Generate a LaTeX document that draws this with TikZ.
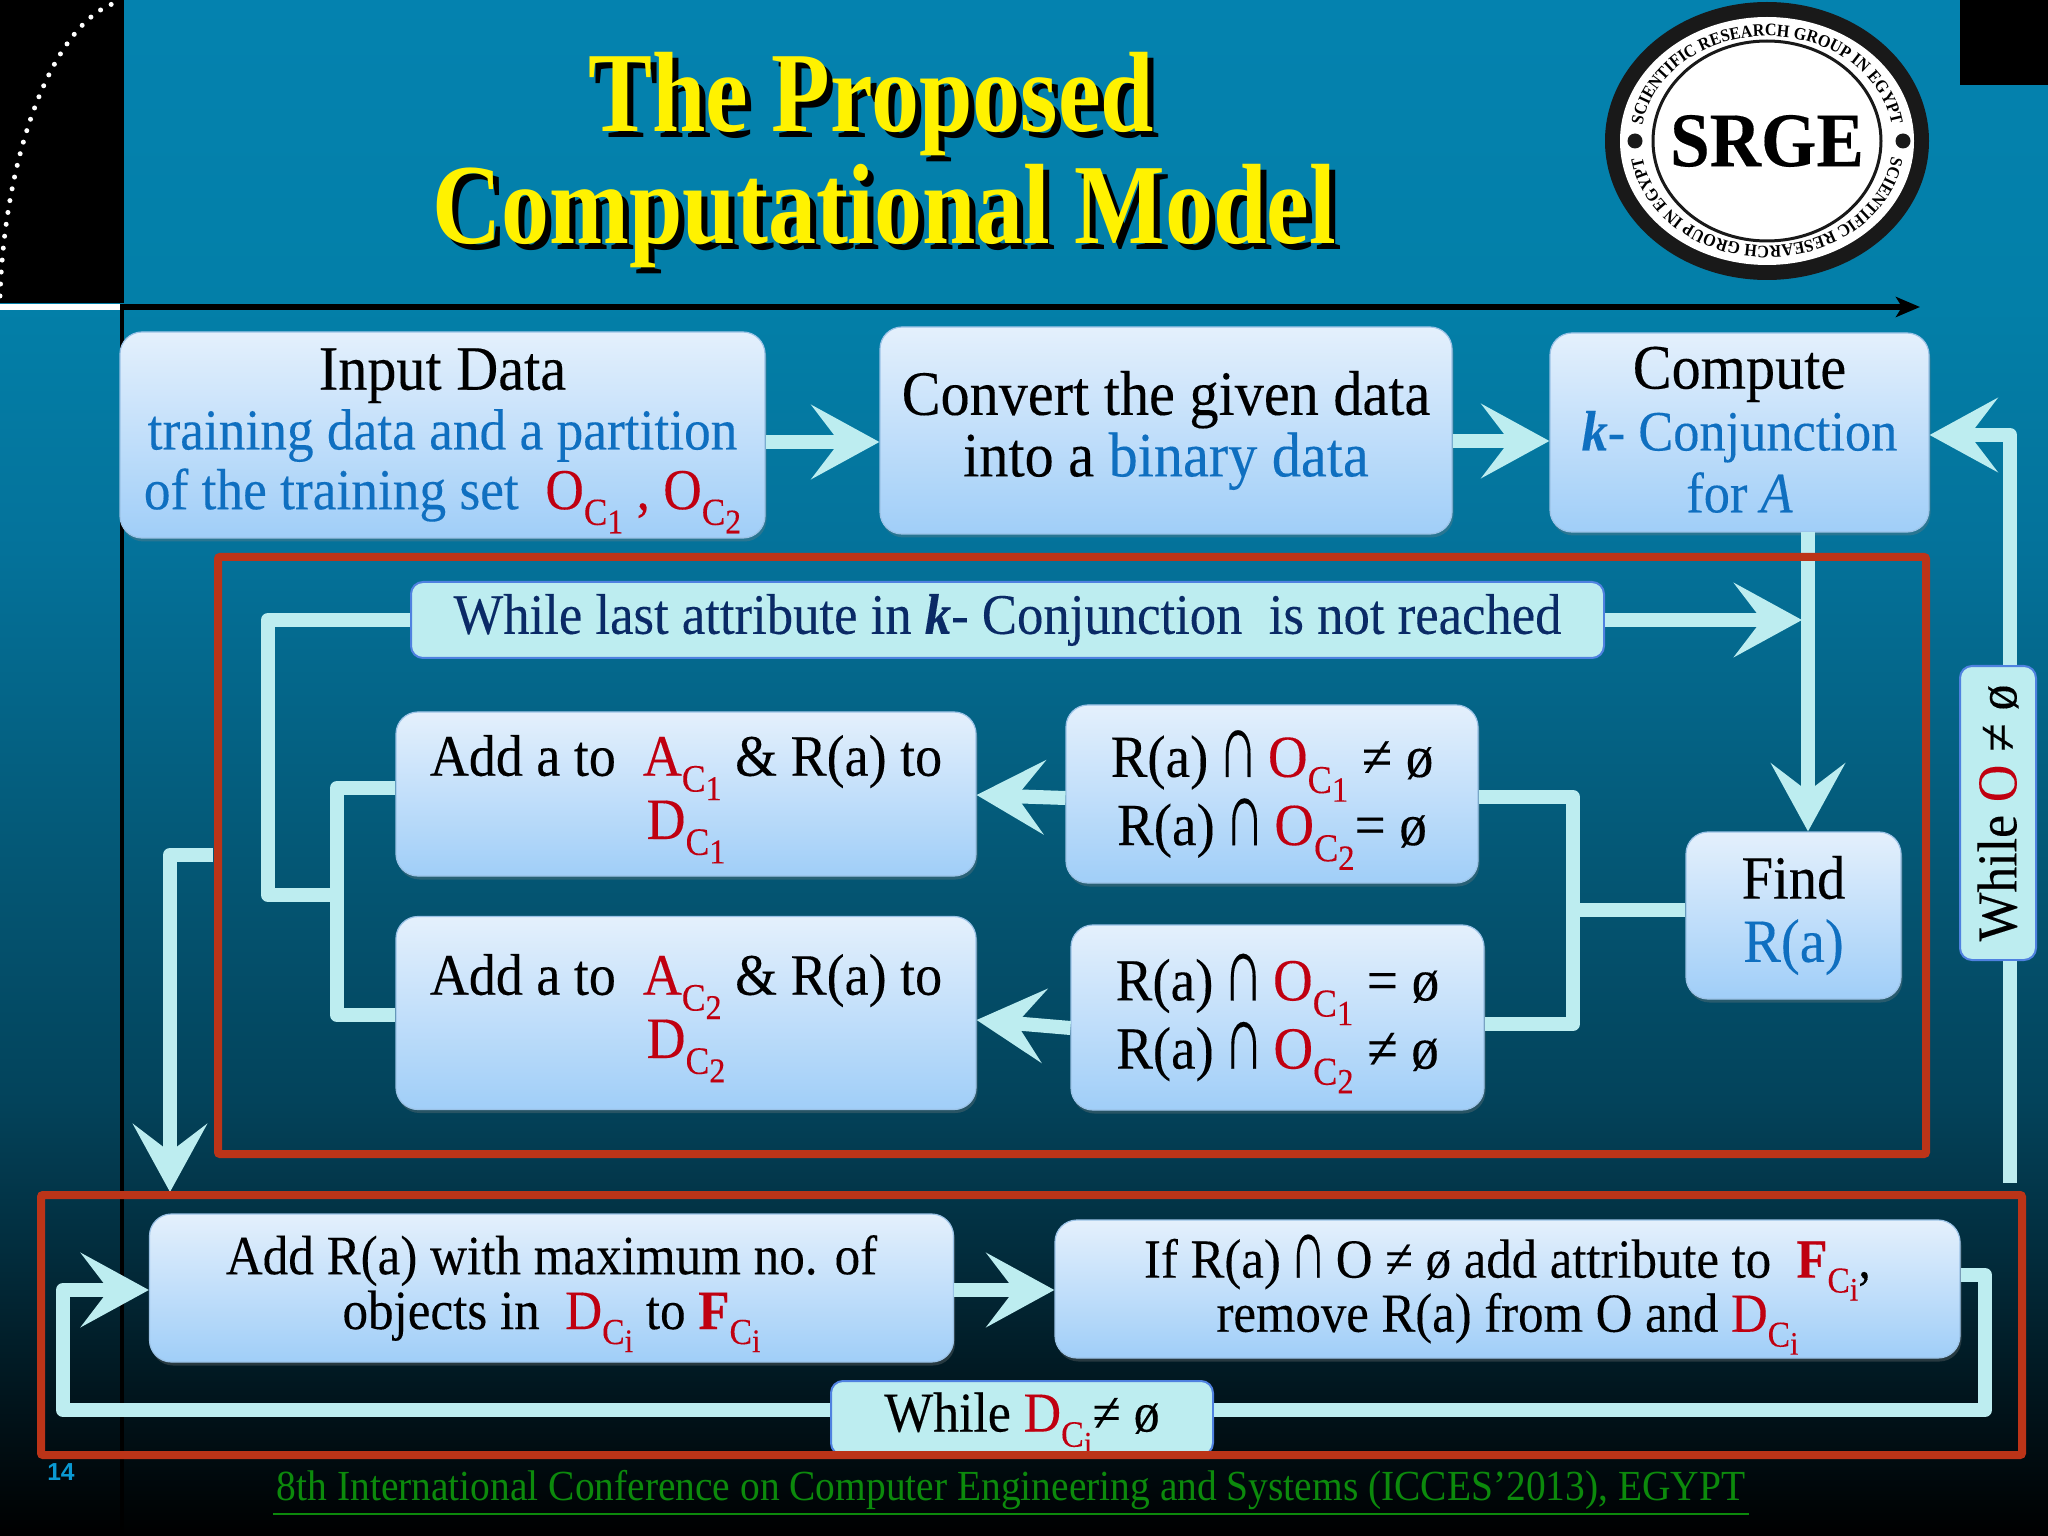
\documentclass[tikz,border=0pt]{standalone}
\usepackage{fontspec}
\setmainfont[FakeStretch=0.92,FakeBold=0.2]{Liberation Serif}
\newfontfamily\headfont[FakeStretch=0.84]{Liberation Serif}
\newfontfamily\footfont[FakeStretch=0.92]{Liberation Serif}
\newfontfamily\numfont{Liberation Sans}
\usetikzlibrary{arrows.meta,shadows,decorations.text}
\definecolor{flowcyan}{HTML}{BDEDF0}
\definecolor{boxtop}{HTML}{E4F0FC}
\definecolor{boxbot}{HTML}{A0CEF8}
\definecolor{barblue}{HTML}{4F81E0}
\definecolor{bluetext}{HTML}{0F6FC0}
\definecolor{navytext}{HTML}{0A2A66}
\definecolor{redtext}{HTML}{C00010}
\definecolor{framered}{HTML}{BC3418}
\definecolor{greentext}{HTML}{0C8A0C}
\pgfdeclareverticalshading{slidebg}{100bp}{rgb(0bp)=(0,0,0); rgb(25bp)=(0,0,0); rgb(29.4bp)=(0.004,0.08,0.11); rgb(34.3bp)=(0.008,0.176,0.24); rgb(39.2bp)=(0.012,0.263,0.357); rgb(47.3bp)=(0.016,0.345,0.463); rgb(57.1bp)=(0.016,0.447,0.604); rgb(65bp)=(0.012,0.498,0.659); rgb(75bp)=(0.016,0.51,0.686); rgb(100bp)=(0.016,0.51,0.686)}
\newcommand{\Csub}[2]{\textcolor{redtext}{#1\smash{\raisebox{-.27em}{\scalebox{.66}{C\raisebox{-.22em}{\scalebox{.9}{#2}}}}}}}
\newcommand{\capsym}{\scalebox{1}[1.55]{∩}}
\newcommand{\liftby}[1]{\rule[-#1]{0pt}{0pt}}
\tikzset{
  textsize/.style n args={2}{font=\fontsize{#1}{#2}\selectfont},
  databox/.style={rounded corners=.22cm,top color=boxtop,bottom color=boxbot,draw=boxbot!85!gray,line width=.012cm,
    drop shadow={shadow xshift=.015cm,shadow yshift=-.035cm,opacity=.3},align=center,inner sep=0pt,text=black},
  loopbar/.style={rounded corners=.12cm,fill=flowcyan,draw=barblue,line width=.02cm,align=center,inner sep=0pt,text=black},
  flowline/.style={line width=.14cm,color=flowcyan,line join=round},
  flowarrow/.style={flowline,-{Stealth[length=.68cm,width=.74cm,inset=.28cm]}},
  redframe/.style={draw=framered,line width=.08cm,rounded corners=.02cm},
  titletext/.style={font=\headfont\bfseries\fontsize{32.5}{34}\selectfont,inner sep=0pt}
}
\begin{document}
\begin{tikzpicture}
\useasboundingbox (0,0) rectangle (20.48,-15.36);
% Slide background and black rules
\shade[shading=slidebg] (0,0) rectangle (20.48,-15.36);
\fill[black] (0,0) rectangle (1.24,-3.03);
\fill[black] (19.6,0) rectangle (20.48,-.85);
\draw[white,line width=.05cm,line cap=round,dash pattern=on 0pt off .12cm] (0,-2.96) .. controls (.05,-1.5) and (.55,-.2) .. (1.18,-.02);
\draw[white,line width=.06cm] (0,-3.07) -- (1.2,-3.07);
\draw[black,line width=.045cm] (1.22,-3.07) -- (1.22,-15.36);
\draw[black,line width=.06cm,-{Stealth[length=.24cm,width=.2cm,inset=.06cm]}] (1.2,-3.07) -- (19.2,-3.07);
% Title
\node[titletext,text=black] (titleoneshadow) at (8.77,-1.1) {The Proposed};
\node[titletext,text=black] (titletwoshadow) at (8.9,-2.22) {Computational Model};
\node[titletext,text=yellow] (titleone) at (8.71,-1.04) {The Proposed};
\node[titletext,text=yellow] (titletwo) at (8.84,-2.16) {Computational Model};
% SRGE seal
\fill[black!90] (17.67,-1.41) ellipse [x radius=1.62,y radius=1.39];
\fill[white] (17.67,-1.41) ellipse [x radius=1.47,y radius=1.24];
\draw[black!90,line width=.03cm] (17.67,-1.41) ellipse [x radius=1.14,y radius=1.0];
\fill[black!90] (16.35,-1.41) circle (.075);
\fill[black!90] (19.03,-1.41) circle (.075);
\path[decorate,decoration={text along path,text align=center,text={|\footfont\fontsize{5}{5}\selectfont\bfseries|SCIENTIFIC RESEARCH GROUP IN EGYPT}}]
  (16.41,-1.41) arc [start angle=180,end angle=0,x radius=1.26,y radius=1.05];
\path[decorate,decoration={text along path,text align=center,text={|\footfont\fontsize{5}{5}\selectfont\bfseries|SCIENTIFIC RESEARCH GROUP IN EGYPT}}]
  (18.93,-1.41) arc [start angle=0,end angle=-180,x radius=1.26,y radius=1.05];
\node[font=\bfseries\fontsize{22}{23}\selectfont,inner sep=0pt] (srge) at (17.67,-1.41) {SRGE};
% Boxes
\node[databox,textsize={16.5}{17},minimum width=6.45cm,minimum height=2.06cm] (input) at (4.425,-4.35) {{\fontsize{18}{17}\selectfont Input Data}\\ \textcolor{bluetext}{training data and a partition}\\ \textcolor{bluetext}{of the training set}~~\Csub{O}{1} \textcolor{redtext}{,} \Csub{O}{2}};
\node[databox,textsize={18}{17.5},minimum width=5.72cm,minimum height=2.07cm] (convert) at (11.66,-4.305) {Convert the given data\\ into a \textcolor{bluetext}{binary data}};
\node[databox,textsize={16.2}{17.6},minimum width=3.79cm,minimum height=1.99cm] (compute) at (17.395,-4.325) {{\fontsize{18}{17.6}\selectfont Compute}\\ \textcolor{bluetext}{\textbf{\textit{k}}- Conjunction}\\ \textcolor{bluetext}{for \textit{A}}\liftby{.06cm}};
\node[loopbar,textsize={16.3}{18},minimum width=11.93cm,minimum height=.76cm,text=navytext] (whilebar) at (10.075,-6.2) {While last attribute in \textbf{\textit{k}}- Conjunction~~is not reached};
\node[databox,textsize={16.7}{18},minimum width=5.8cm,minimum height=1.64cm] (addone) at (6.86,-7.94) {Add a to~~\Csub{A}{1} \& R(a) to\\ \Csub{D}{1}\liftby{.14cm}};
\node[databox,textsize={17}{19.4},minimum width=4.12cm,minimum height=1.78cm] (rone) at (12.72,-7.94) {R(a)\,\capsym\,\Csub{O}{1} ≠ ø\\ R(a)\,\capsym\,\Csub{O}{2}= ø};
\node[databox,textsize={16.7}{18},minimum width=5.8cm,minimum height=1.93cm] (addtwo) at (6.86,-10.13) {Add a to~~\Csub{A}{2} \& R(a) to\\ \Csub{D}{2}\liftby{.14cm}};
\node[databox,textsize={17}{19.4},minimum width=4.13cm,minimum height=1.85cm] (rtwo) at (12.775,-10.175) {R(a)\,\capsym\,\Csub{O}{1} = ø\\ R(a)\,\capsym\,\Csub{O}{2} ≠ ø};
\node[databox,textsize={17.5}{18},minimum width=2.15cm,minimum height=1.67cm] (find) at (17.935,-9.155) {Find\\ \textcolor{bluetext}{R(a)}};
\node[loopbar,textsize={16}{18},rotate=90,minimum width=2.94cm,minimum height=.76cm] (whileo) at (19.98,-8.13) {While \textcolor{redtext}{O} ≠ ø};
\node[databox,textsize={15.8}{15.6},minimum width=8.04cm,minimum height=1.48cm] (addr) at (5.515,-12.88) {Add R(a) with maximum no. of\\ objects in~~\Csub{D}{i} to \Csub{\textbf{F}}{i}};
\node[databox,textsize={15.7}{15.4},minimum width=9.05cm,minimum height=1.38cm] (ifbox) at (15.075,-12.89) {If R(a)\,\capsym\,O ≠ ø add attribute to~~\Csub{\textbf{F}}{i},\\ remove R(a) from O and \Csub{D}{i}\liftby{.08cm}};
\node[loopbar,textsize={16}{18},minimum width=3.82cm,minimum height=.74cm] (whiled) at (10.22,-14.18) {While \Csub{D}{i}≠ ø\liftby{.12cm}};
% Connectors
\coordinate (loopstart) at (20.1,-11.83);
\coordinate (downstart) at (2.13,-8.55);
\coordinate (forkright) at (15.73,-9.1);
\coordinate (forkleft) at (3.37,-8.95);
\draw[flowarrow] (input.east |- 0,-4.42) -- (convert.west |- 0,-4.42);
\draw[flowarrow] (convert.east |- 0,-4.41) -- (compute.west |- 0,-4.41);
\draw[flowline] (loopstart) -- (whileo.west -| loopstart);
\draw[flowarrow] (whileo.east -| loopstart) |- (compute.east |- 0,-4.35);
\draw[flowarrow] (18.08,-5.32) -- (find.north -| 18.08,0);
\draw[flowarrow] (whilebar.east) -- (18.02,-6.2);
\draw[flowline] (whilebar.west) -- (2.68,-6.2) |- (forkleft);
\draw[flowline] (addone.west |- 0,-7.88) -| (forkleft) |- (addtwo.west |- 0,-10.15);
\draw[flowarrow] (rone.west |- 0,-7.98) -- (addone.east |- 0,-7.95);
\draw[flowarrow] (rtwo.west |- 0,-10.28) -- (addtwo.east |- 0,-10.2);
\draw[flowline] (rone.east |- 0,-7.97) -| (forkright) |- (rtwo.east |- 0,-10.24);
\draw[flowline] (find.west |- forkright) -- (forkright);
\draw[flowarrow] (downstart) -| (1.7,-11.92);
\draw[flowarrow] (addr.east |- 0,-12.9) -- (ifbox.west |- 0,-12.9);
\draw[flowline] (ifbox.east |- 0,-12.75) -| (19.85,-14.1) -- (whiled.east |- 0,-14.1);
\draw[flowarrow] (whiled.west |- 0,-14.1) -| (.63,-12.9) -- (addr.west |- 0,-12.9);
% Red frames
\draw[redframe] (2.18,-5.57) rectangle (19.26,-11.54);
\draw[redframe] (.41,-11.95) rectangle (20.22,-14.55);
% Footer
\node[font=\numfont\bfseries\fontsize{7}{8}\selectfont,text=bluetext!70!cyan,inner sep=0pt] (pagenum) at (.61,-14.72) {14};
\node[text=greentext,font=\footfont\fontsize{12.2}{13}\selectfont,inner sep=1pt] (footer) at (10.11,-14.9) {8th International Conference on Computer Engineering and Systems (ICCES’2013), EGYPT};
\draw[greentext,line width=.025cm] (footer.south west) -- (footer.south east);
\end{tikzpicture}
\end{document}
